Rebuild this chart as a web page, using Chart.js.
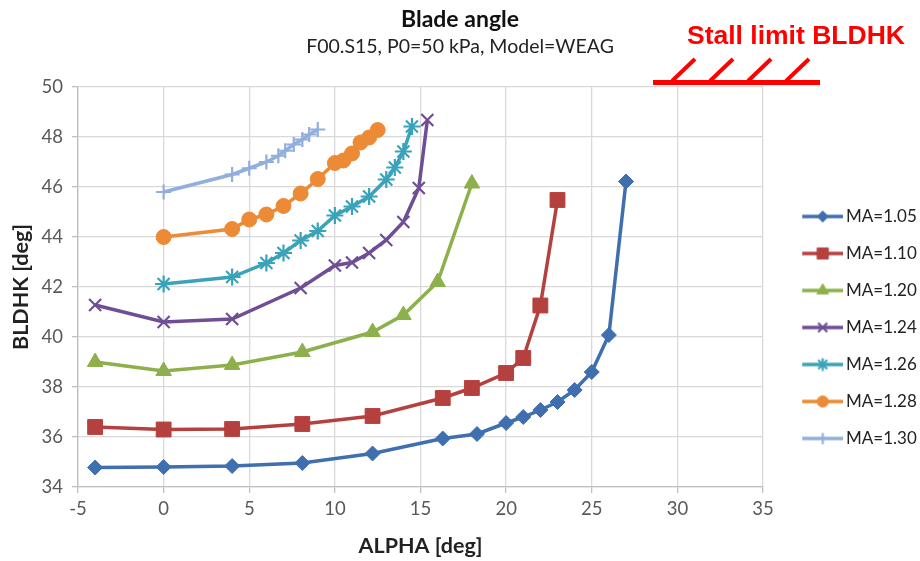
<!DOCTYPE html>
<html>
<head>
<meta charset="utf-8">
<title>Blade angle</title>
<script src="https://cdn.jsdelivr.net/npm/chart.js@4.4.1/dist/chart.umd.min.js"></script>
<style>
  html, body { margin: 0; padding: 0; background: #fff; }
  #wrap { width: 920px; height: 561px; position: relative; }
</style>
</head>
<body>
<div id="wrap"><canvas id="bladeChart"></canvas></div>
<script>
// Data: ALPHA [deg] vs BLDHK [deg] per MA
const alpha105 = [-4, 0, 4, 8.1, 12.2, 16.3, 18.3, 20, 21, 22, 23, 24, 25, 26, 27];
const bld105   = [34.78, 34.8, 34.84, 34.96, 35.34, 35.94, 36.12, 36.56, 36.8, 37.08, 37.4, 37.88, 38.6, 40.08, 46.22];

const alpha110 = [-4, 0, 4, 8.1, 12.2, 16.3, 18, 20, 21, 22, 23];
const bld110   = [36.4, 36.3, 36.32, 36.52, 36.84, 37.56, 37.96, 38.56, 39.16, 41.26, 45.48];

const alpha120 = [-4, 0, 4, 8.1, 12.2, 14, 16, 18];
const bld120   = [39.0, 38.64, 38.88, 39.4, 40.2, 40.88, 42.2, 46.14];

const alpha124 = [-4, 0, 4, 8, 10, 11, 12, 13, 14, 14.9, 15.4];
const bld124   = [41.28, 40.6, 40.72, 41.96, 42.86, 42.98, 43.36, 43.88, 44.6, 45.96, 48.68];

const alpha126 = [0, 4, 6, 7, 8, 9, 10, 11, 12, 13, 13.5, 14, 14.5];
const bld126   = [42.12, 42.4, 42.96, 43.36, 43.86, 44.24, 44.86, 45.22, 45.62, 46.3, 46.78, 47.42, 48.42];

const alpha128 = [0, 4, 5, 6, 7, 8, 9, 10, 10.5, 11, 11.5, 12, 12.5];
const bld128   = [44.0, 44.32, 44.7, 44.9, 45.24, 45.74, 46.32, 46.96, 47.06, 47.34, 47.78, 47.98, 48.28];

const alpha130 = [0, 4, 5, 6, 6.7, 7.1, 7.6, 8.1, 8.5, 9];
const bld130   = [45.8, 46.5, 46.75, 47.0, 47.25, 47.45, 47.7, 47.9, 48.1, 48.3];

const seriesNames = ['MA=1.05', 'MA=1.10', 'MA=1.20', 'MA=1.24', 'MA=1.26', 'MA=1.28', 'MA=1.30'];
const xTicks = [-5, 0, 5, 10, 15, 20, 25, 30, 35];
const yTicks = [34, 36, 38, 40, 42, 44, 46, 48, 50];

const seriesX = [alpha105, alpha110, alpha120, alpha124, alpha126, alpha128, alpha130];
const seriesY = [bld105, bld110, bld120, bld124, bld126, bld128, bld130];

const colors  = ['#3F6FAE', '#B5413F', '#8DB04C', '#6F4E96', '#3AA3BA', '#EC8A35', '#92AEDC'];
const markers = [
  { style: 'rectRot',  radius: 7.5, border: 1 },
  { style: 'rect',     radius: 10.5, border: 1 },
  { style: 'triangle', radius: 9,   border: 1 },
  { style: 'crossRot', radius: 8.5, border: 2.2 },
  { style: 'star',     radius: 8.5, border: 2.2 },
  { style: 'circle',   radius: 7.5, border: 1 },
  { style: 'cross',    radius: 7.5, border: 2.2 }
];

const FONT = "Lato, 'Open Sans', sans-serif";

// small line + marker pictures for the legend
function legendIcon(i) {
  const c = document.createElement('canvas');
  c.width = 66; c.height = 20;
  const g = c.getContext('2d');
  g.strokeStyle = colors[i];
  g.fillStyle = colors[i];
  g.lineWidth = 3.5;
  g.beginPath();
  g.moveTo(25, 10);
  g.lineTo(66, 10);
  g.stroke();
  g.lineWidth = markers[i].border;
  Chart.helpers.drawPoint(g, {
    pointStyle: markers[i].style,
    radius: markers[i].radius * 0.75,
    rotation: 0,
    borderWidth: markers[i].border
  }, 45.5, 10);
  return c;
}

const datasets = seriesNames.map((name, i) => ({
  label: name,
  data: seriesX[i].map((x, k) => ({ x: x, y: seriesY[i][k] })),
  showLine: true,
  borderColor: colors[i],
  backgroundColor: colors[i],
  borderWidth: 3.5,
  tension: 0,
  pointStyle: markers[i].style,
  pointRadius: markers[i].radius,
  pointHoverRadius: markers[i].radius,
  pointBorderWidth: markers[i].border,
  pointBackgroundColor: colors[i],
  pointBorderColor: colors[i]
}));

// red "Stall limit" note in the top right corner
const stallNote = {
  id: 'stallNote',
  afterDraw(chart) {
    const ctx = chart.ctx;
    ctx.save();
    ctx.fillStyle = '#FF0000';
    ctx.strokeStyle = '#FF0000';
    ctx.font = "bold 26.5px 'Liberation Sans', Arial, sans-serif";
    ctx.textBaseline = 'middle';
    ctx.textAlign = 'left';
    ctx.fillText('Stall limit BLDHK', 687, 37);
    ctx.lineWidth = 5;
    ctx.beginPath();
    ctx.moveTo(653, 82.5);
    ctx.lineTo(820, 82.5);
    ctx.stroke();
    ctx.lineWidth = 4;
    [672, 710, 748, 786].forEach(x0 => {
      ctx.beginPath();
      ctx.moveTo(x0, 81);
      ctx.lineTo(x0 + 23, 59);
      ctx.stroke();
    });
    ctx.restore();
  }
};

const ctx = document.getElementById('bladeChart').getContext('2d');
const bladeChart = new Chart(ctx, {
  type: 'scatter',
  data: { datasets: datasets },
  options: {
    responsive: true,
    maintainAspectRatio: false,
    animation: false,
    layout: { padding: 0 },
    plugins: {
      title: {
        display: true,
        text: 'Blade angle',
        color: '#111',
        font: { family: FONT, size: 23, weight: 'bold', lineHeight: 1.2 },
        padding: { top: 6.2, bottom: 0 }
      },
      subtitle: {
        display: true,
        text: 'F00.S15, P0=50 kPa, Model=WEAG',
        color: '#222',
        font: { family: FONT, size: 19.5, lineHeight: 1.2 },
        padding: { top: 1.5, bottom: 28.3 }
      },
      legend: {
        display: true,
        position: 'right',
        align: 'start',
        maxWidth: 157,
        title: {
          display: true,
          text: '',
          font: { size: 10, lineHeight: 1 },
          padding: { top: 178, bottom: 0 }
        },
        labels: {
          usePointStyle: true,
          pointStyleWidth: 54.5,
          padding: 20,
          color: '#222',
          font: { family: FONT, size: 17 },
          generateLabels: chart => chart.data.datasets.map((ds, i) => ({
            text: ds.label,
            pointStyle: legendIcon(i),
            fillStyle: colors[i],
            strokeStyle: colors[i],
            lineWidth: 0,
            hidden: false,
            datasetIndex: i,
            fontColor: '#222'
          }))
        }
      },
      tooltip: { enabled: false }
    },
    scales: {
      x: {
        type: 'linear',
        min: -5,
        max: 35,
        afterBuildTicks: scale => { scale.ticks = xTicks.map(v => ({ value: v })); },
        afterFit: scale => { scale.height = 74; },
        grid: { color: '#D9D9D9', lineWidth: 1.3, tickLength: 6, tickColor: '#BFBFBF' },
        border: { color: '#BFBFBF', width: 1.3 },
        ticks: {
          color: '#595959',
          padding: 5,
          font: { family: FONT, size: 18.5 }
        },
        title: {
          display: true,
          text: 'ALPHA [deg]',
          color: '#222',
          font: { family: FONT, size: 21.5, weight: 'bold', lineHeight: 1.2 },
          padding: { top: 0, bottom: 2 }
        }
      },
      y: {
        type: 'linear',
        min: 34,
        max: 50,
        afterBuildTicks: scale => { scale.ticks = yTicks.map(v => ({ value: v })); },
        afterFit: scale => { scale.width = 78; },
        grid: { color: '#D9D9D9', lineWidth: 1.3, tickLength: 6, tickColor: '#BFBFBF' },
        border: { color: '#BFBFBF', width: 1.3 },
        ticks: {
          color: '#595959',
          padding: 9,
          font: { family: FONT, size: 18.5 }
        },
        title: {
          display: true,
          text: 'BLDHK [deg]',
          color: '#222',
          font: { family: FONT, size: 21.5, weight: 'bold', lineHeight: 1.2 },
          padding: { top: 8, bottom: 0 }
        }
      }
    }
  },
  plugins: [stallNote]
});
</script>
</body>
</html>
